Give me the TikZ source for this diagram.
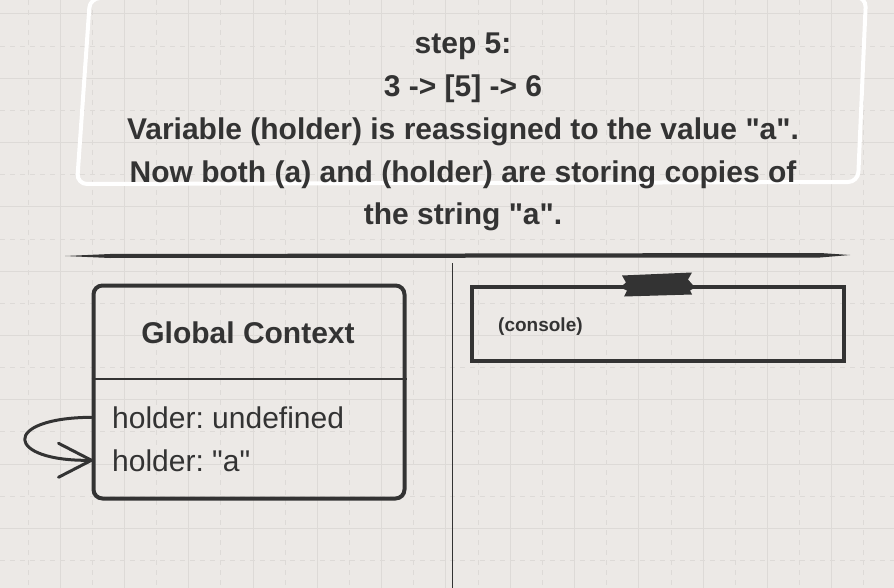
\documentclass[tikz,border=0pt]{standalone}
\usepackage{fontspec}
\setmainfont{Liberation Sans}[Ligatures=TeXOff]
\frenchspacing
\usetikzlibrary{calc}
\definecolor{paper}{HTML}{ECE9E6}
\definecolor{gridline}{HTML}{DDDAD7}
\definecolor{ink}{HTML}{333333}

\begin{document}
\begin{tikzpicture}
  [x=1pt,y=-1pt,
   every node/.style={inner sep=0pt,text=ink},
   heading/.style={font=\fontsize{30}{36}\selectfont\bfseries,anchor=base},
   entry/.style={font=\fontsize{30}{36}\selectfont,anchor=base west},
   sketch/.style={draw=ink,line width=4pt,line join=round,line cap=round}]

  \fill[paper] (0,0) rectangle (894,588);
  \useasboundingbox (0,0) rectangle (894,588);

  % grid
  \foreach \n in {0,...,27} {
    \pgfmathsetmacro\gx{28+32.15*\n}
    \ifodd\n \draw[gridline,line width=1pt] (\gx,0) -- (\gx,588);
    \else \draw[gridline,line width=1pt,dash pattern=on 5pt off 5pt] (\gx,0) -- (\gx,588); \fi
  }
  \foreach \n in {0,...,18} {
    \pgfmathsetmacro\gy{14+32.15*\n}
    \ifodd\n \draw[gridline,line width=1pt,dash pattern=on 5pt off 5pt] (0,\gy) -- (894,\gy);
    \else \draw[gridline,line width=1pt] (0,\gy) -- (894,\gy); \fi
  }

  % step caption
  \draw[white,line width=4pt,rounded corners=10pt]
    (90,-2) -- (866,-3) -- (858,182) -- (77,184) -- cycle;
  \foreach \y/\t [count=\i] in {54/step 5:,
      97/3 -> [5] -> 6,
      140/Variable (holder) is reassigned to the value "a".,
      183/Now both (a) and (holder) are storing copies of,
      225/the string "a".}
    \node[heading] (caption\i) at (463,\y) {\t};

  \fill[ink] (65,256) -- (110,254) -- (820,253) -- (850,255) -- (820,257.5) -- (110,258) -- cycle;
  \draw[ink,line width=1.5pt] (452.5,263) -- (452.5,588);

  % global context
  \node[sketch,rounded corners=9pt,minimum width=311pt,minimum height=213pt] (globalbox) at (249,392) {};
  \node[heading] (globaltitle) at (248,343) {Global Context};
  \draw[ink,line width=2.5pt] (globalbox.west |- 0,379) -- (globalbox.east |- 0,379);
  \node[entry] (holderold) at (112,428) {holder: undefined};
  \node[entry] (holdernew) at (112,471) {holder: "a"};

  \coordinate (loopstart) at (globalbox.west |- holderold.center);
  \coordinate (loopend) at (globalbox.west |- holdernew.center);
  \draw[sketch,line width=3pt] (loopstart) .. controls (0,418) and (5,462) .. (loopend);
  \draw[sketch,line width=3pt] ($(loopend)+(-33,-17)$) -- (loopend) -- ($(loopend)+(-33,17)$);

  % console
  \node[sketch,line join=miter,minimum width=372pt,minimum height=74pt] (consolebox) at (658,323.5) {};
  \fill[ink] ([shift={(-36,-9)}]consolebox.north) -- ++(70,-3) -- ++(-4,7) -- ++(7,8) -- ++(-5,3)
    -- ++(2,4) -- ++(-68,2) -- ++(3,-6) -- ++(-7,-3) -- ++(6,-5) -- cycle;
  \node[font=\fontsize{19}{23}\selectfont\bfseries,anchor=base west] (consolelabel) at (498,331) {(console)};
\end{tikzpicture}
\end{document}
